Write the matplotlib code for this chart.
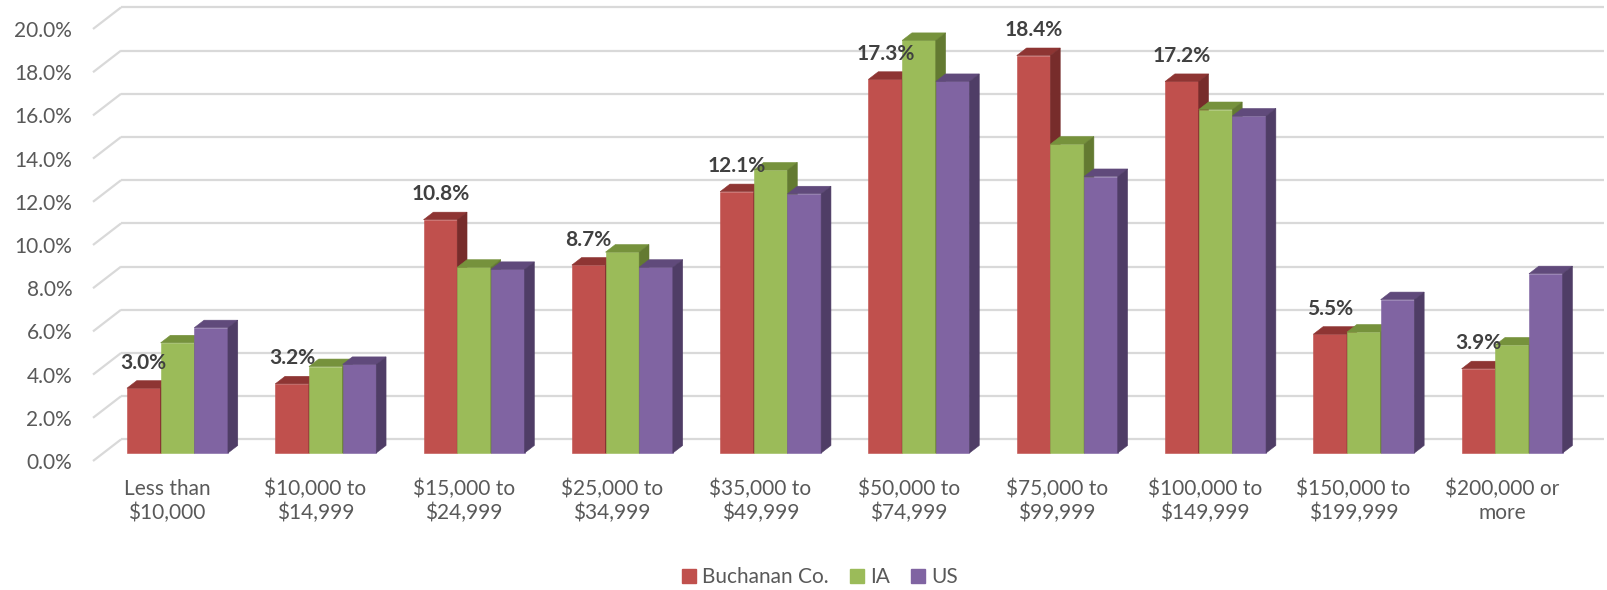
#!/usr/bin/env python3
"""
Household income distribution: Buchanan Co. vs IA vs US

Redraws the Excel-style 3D clustered column chart with flat matplotlib
patches (front face from ax.bar, top and side faces as polygons).
"""

import matplotlib
matplotlib.use("Agg")
import matplotlib.pyplot as plt
from matplotlib.patches import Polygon, Patch
from matplotlib.ticker import FuncFormatter

plt.rcParams['font.family'] = ['Lato', 'DejaVu Sans']

# Data (percent of households)
categories = [
    "Less than\n$10,000", "$10,000 to\n$14,999", "$15,000 to\n$24,999",
    "$25,000 to\n$34,999", "$35,000 to\n$49,999", "$50,000 to\n$74,999",
    "$75,000 to\n$99,999", "$100,000 to\n$149,999", "$150,000 to\n$199,999",
    "$200,000 or\nmore",
]
buchanan = [3.0, 3.2, 10.8, 8.7, 12.1, 17.3, 18.4, 17.2, 5.5, 3.9]
iowa = [5.1, 4.0, 8.6, 9.3, 13.1, 19.1, 14.3, 15.9, 5.6, 5.0]
us = [5.8, 4.1, 8.5, 8.6, 12.0, 17.2, 12.8, 15.6, 7.1, 8.3]
series_names = ["Buchanan Co.", "IA", "US"]
y_ticks = [0, 2, 4, 6, 8, 10, 12, 14, 16, 18, 20]

# front / top / side shades per series
colors = [
    ("#C0504D", "#8E3533", "#772C2B"),
    ("#9BBB59", "#76923C", "#637A31"),
    ("#8064A2", "#604A7B", "#4F3D66"),
]

# oblique projection: full floor depth in data units
DX = 0.189   # category units
DY = 1.0     # percent units
D0 = 0.37    # bars start this far back
DD = 0.35    # bar depth
GAP = 0.159  # left margin inside a category slot
W = 0.227    # bar width


def draw_bar(ax, x, v, shades, z):
    front, top, side = shades
    y0 = D0 * DY
    ax.bar(x, v, width=W, bottom=y0, align='edge', color=front,
           edgecolor=front, linewidth=0.4, zorder=z)
    ox, oy = DD * DX, DD * DY
    y1 = y0 + v
    ax.add_patch(Polygon([(x, y1), (x + W, y1), (x + W + ox, y1 + oy), (x + ox, y1 + oy)],
                         closed=True, facecolor=top, edgecolor=top, linewidth=0.4, zorder=z))
    ax.add_patch(Polygon([(x + W, y0), (x + W, y1), (x + W + ox, y1 + oy), (x + W + ox, y0 + oy)],
                         closed=True, facecolor=side, edgecolor=side, linewidth=0.4, zorder=z))


def main():
    fig = plt.figure(figsize=(16.08, 5.9), dpi=100)
    ax = fig.add_axes([93 / 1608, 129 / 590, 1483 / 1608, 432 / 590])
    n = len(categories)
    ax.set_xlim(0, n)
    ax.set_ylim(0, 20)

    # walls: side-wall diagonals and back-wall gridlines
    grid_kw = dict(color='#D9D9D9', linewidth=1.6, clip_on=False, zorder=1,
                   solid_capstyle='butt')
    for v in y_ticks:
        ax.plot([0, DX], [v, v + DY], **grid_kw)
        ax.plot([DX, n + DX], [v + DY, v + DY], **grid_kw)

    data = [buchanan, iowa, us]
    for j in range(n):
        for i, vals in enumerate(data):
            x = j + GAP + i * W + D0 * DX
            draw_bar(ax, x, vals[j], colors[i], z=3 + i)
        # data label for Buchanan Co. only
        xc = j + GAP + W / 2 + D0 * DX
        ax.text(xc, D0 * DY + buchanan[j] + 1.18, f"{buchanan[j]:.1f}%",
                ha='center', va='center', fontsize=15, fontweight='bold',
                color='#404040', zorder=10)

    ax.set_yticks(y_ticks)
    ax.yaxis.set_major_formatter(FuncFormatter(lambda v, p: f"{v:.1f}%"))
    ax.set_xticks([j + 0.5 for j in range(n)])
    ax.set_xticklabels(categories)
    ax.tick_params(axis='y', length=0, pad=15, labelsize=15, labelcolor='#595959')
    ax.tick_params(axis='x', length=0, pad=13, labelsize=15, labelcolor='#595959')
    for s in ax.spines.values():
        s.set_visible(False)
    ax.patch.set_visible(False)

    handles = [Patch(facecolor=c[0], edgecolor=c[0]) for c in colors]
    fig.legend(handles, series_names, loc='center', bbox_to_anchor=(820 / 1608, 13 / 590),
               ncol=3, frameon=False, fontsize=15, handlelength=0.67, handleheight=0.67,
               handletextpad=0.3, columnspacing=1.0, labelcolor='#595959')

    fig.savefig("out.png", dpi=100)


if __name__ == "__main__":
    main()
